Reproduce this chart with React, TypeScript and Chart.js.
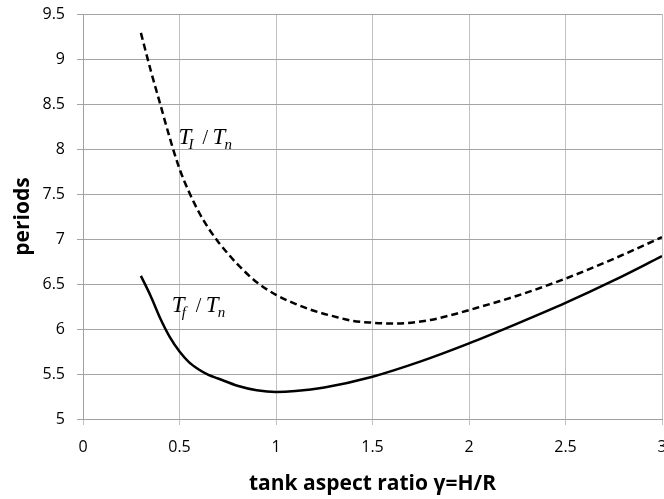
import { useEffect, useRef } from "react";
import { Chart, registerables } from "chart.js";

Chart.register(...registerables);

// Impulsive period ratio T_I / T_n against tank aspect ratio
const gammaImpulsive = [0.3, 0.35, 0.4, 0.45, 0.5, 0.55, 0.6, 0.65, 0.7, 0.75, 0.8, 0.9, 1.0, 1.1, 1.2, 1.3, 1.4, 1.5, 1.6, 1.7, 1.8, 1.9, 2.0, 2.25, 2.5, 2.75, 3.0];
const periodImpulsive = [9.29, 8.88, 8.5, 8.12, 7.78, 7.52, 7.3, 7.12, 6.97, 6.84, 6.72, 6.52, 6.38, 6.28, 6.2, 6.14, 6.09, 6.07, 6.06, 6.07, 6.1, 6.15, 6.21, 6.37, 6.56, 6.78, 7.02];

// Fundamental period ratio T_f / T_n against tank aspect ratio
const gammaFundamental = [0.3, 0.35, 0.4, 0.45, 0.5, 0.55, 0.6, 0.65, 0.7, 0.8, 0.9, 1.0, 1.1, 1.25, 1.5, 1.75, 2.0, 2.25, 2.5, 2.75, 3.0];
const periodFundamental = [6.59, 6.37, 6.12, 5.91, 5.75, 5.63, 5.55, 5.49, 5.45, 5.37, 5.32, 5.3, 5.31, 5.35, 5.47, 5.64, 5.84, 6.06, 6.29, 6.54, 6.81];

// Curve labels: subscript letter and anchor in data units
const labelSubscripts = ["I", "f"];
const labelGamma = [0.495, 0.46];
const labelPeriod = [8.06, 6.19];

const toPoints = (xs: number[], ys: number[]) => xs.map((x, i) => ({ x, y: ys[i] }));
const formatTick = (v: number | string) => String(Number(Number(v).toFixed(2)));

const ratioLabelPlugin = {
  id: "ratioLabels",
  afterDatasetsDraw(chart: any) {
    const { ctx, scales } = chart;
    ctx.save();
    ctx.fillStyle = "#000";
    ctx.textBaseline = "alphabetic";
    ctx.textAlign = "left";
    const big = "italic 23px 'Liberation Serif', serif";
    const small = "italic 15px 'Liberation Serif', serif";
    labelSubscripts.forEach((sub, i) => {
      const px = scales.x.getPixelForValue(labelGamma[i]);
      const py = scales.y.getPixelForValue(labelPeriod[i]);
      ctx.font = big;
      ctx.fillText("T", px, py);
      ctx.font = small;
      ctx.fillText(sub, px + 10, py + 5);
      ctx.font = "20px 'Liberation Serif', serif";
      ctx.fillText("/", px + 24, py);
      ctx.font = big;
      ctx.fillText("T", px + 34, py);
      ctx.font = small;
      ctx.fillText("n", px + 46, py + 5);
    });
    ctx.restore();
  },
};

export default function App() {
  const canvasRef = useRef<HTMLCanvasElement | null>(null);

  useEffect(() => {
    document.body.style.margin = "0";
    document.body.style.overflow = "hidden";
    const canvas = canvasRef.current;
    if (!canvas) return;

    const tickFont = { family: "'Open Sans', sans-serif", size: 16 };
    const titleFont = { family: "'Open Sans', sans-serif", size: 21, weight: "bold" as const };

    const chart = new Chart(canvas, {
      type: "line",
      data: {
        datasets: [
          {
            label: "T_I / T_n",
            data: toPoints(gammaImpulsive, periodImpulsive),
            borderColor: "#000",
            borderWidth: 2.5,
            borderDash: [7, 4],
            pointRadius: 0,
            fill: false,
            cubicInterpolationMode: "monotone",
          },
          {
            label: "T_f / T_n",
            data: toPoints(gammaFundamental, periodFundamental),
            borderColor: "#000",
            borderWidth: 2.5,
            pointRadius: 0,
            fill: false,
            cubicInterpolationMode: "monotone",
          },
        ],
      },
      options: {
        responsive: false,
        animation: false,
        events: [],
        layout: { padding: { left: 0, right: 2, top: 14, bottom: 0 } },
        plugins: { legend: { display: false }, tooltip: { enabled: false } },
        scales: {
          x: {
            type: "linear",
            min: 0,
            max: 3,
            ticks: { stepSize: 0.5, color: "#000", font: tickFont, padding: 13, callback: formatTick },
            grid: { color: "#c2c2c2", lineWidth: 1, tickLength: 6 },
            border: { color: "#a0a0a0" },
            title: { display: true, text: "tank aspect ratio γ=H/R", color: "#000", font: titleFont, padding: { top: 0, bottom: 2 } },
            afterFit(scale: any) {
              scale.height = 80;
              scale.paddingLeft = 0;
              scale.paddingRight = 0;
            },
          },
          y: {
            type: "linear",
            min: 5,
            max: 9.5,
            ticks: { stepSize: 0.5, color: "#000", font: tickFont, padding: 12, callback: formatTick },
            grid: { color: "#a4a4a4", lineWidth: 1, tickLength: 6 },
            border: { color: "#a0a0a0" },
            title: { display: true, text: "periods", color: "#000", font: titleFont, padding: { top: 10, bottom: 0 } },
            afterFit(scale: any) {
              scale.width = 83;
              scale.paddingTop = 0;
              scale.paddingBottom = 0;
            },
          },
        },
      },
      plugins: [ratioLabelPlugin],
    });

    return () => chart.destroy();
  }, []);

  return <canvas ref={canvasRef} width={664} height={499} style={{ display: "block" }} />;
}
